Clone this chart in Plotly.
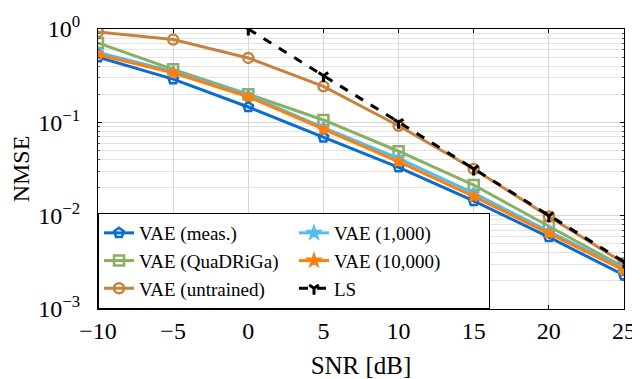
import plotly.graph_objects as go

# SNR grid and NMSE curves
snr = [-10, -5, 0, 5, 10, 15, 20, 25]
nmse_meas = [0.50, 0.29, 0.146, 0.069, 0.033, 0.0144, 0.0059, 0.0023]
nmse_quadriga = [0.71, 0.37, 0.20, 0.106, 0.049, 0.0213, 0.0077, 0.0028]
nmse_untrained = [0.93, 0.77, 0.49, 0.243, 0.092, 0.0316, 0.0098, 0.0031]
nmse_1000 = [0.56, 0.35, 0.196, 0.088, 0.041, 0.0174, 0.0068, 0.0027]
nmse_10000 = [0.53, 0.34, 0.188, 0.084, 0.038, 0.0161, 0.0065, 0.0026]
snr_ls = [0, 5, 10, 15, 20, 25]
nmse_ls = [1.0, 0.316, 0.1, 0.0316, 0.0100, 0.0032]

y_tickvals = [1e-3, 1e-2, 1e-1, 1]
y_ticktext = ['10<sup>\u22123</sup>', '10<sup>\u22122</sup>', '10<sup>\u22121</sup>', '10<sup>0</sup>']

FONT = 'Liberation Serif, Times New Roman, serif'

series = [
    # name, y, color, symbol, size, legend rank (row-wise -> two columns)
    ('VAE (meas.)', nmse_meas, '#0a6ccc', 'pentagon-open', 10, 1),
    ('VAE (QuaDRiGa)', nmse_quadriga, '#8cae63', 'square-open', 10, 3),
    ('VAE (untrained)', nmse_untrained, '#c6823f', 'circle-open', 10, 5),
    ('VAE (1,000)', nmse_1000, '#4dbeee', 'star', 8, 2),
    ('VAE (10,000)', nmse_10000, '#ff7f0e', 'star', 8, 4),
]

fig = go.Figure()
for name, y, color, symbol, size, rank in series:
    fig.add_trace(go.Scatter(
        x=snr, y=y, name=name, mode='lines+markers', legendrank=rank,
        line=dict(color=color, width=3),
        marker=dict(symbol=symbol, size=size, color=color, line=dict(color=color, width=2.5)),
    ))

fig.add_trace(go.Scatter(
    x=snr_ls, y=nmse_ls, name='LS', mode='lines+markers', legendrank=6,
    line=dict(color='black', width=3, dash='dash'),
    marker=dict(symbol='y-down-open', size=8, color='black', line=dict(color='black', width=3)),
))

# page body adds an 8px offset, so the figure is sized to 632x371
fig.update_layout(
    width=632, height=371,
    margin=dict(l=89, r=10, t=4, b=69),
    plot_bgcolor='white',
    paper_bgcolor='white',
    font=dict(family=FONT, size=24, color='black'),
    legend=dict(
        x=0, y=0, xanchor='left', yanchor='bottom',
        orientation='h', entrywidth=150, entrywidthmode='pixels',
        bgcolor='white', bordercolor='black', borderwidth=1,
        font=dict(family=FONT, size=19), tracegroupgap=0,
    ),
)

fig.update_xaxes(
    range=[-10, 25], dtick=5, title_text='SNR [dB]', title_standoff=14,
    title_font=dict(size=25),
    showline=True, linecolor='black', linewidth=1, mirror='allticks',
    ticks='inside', ticklen=4, tickcolor='black', ticklabeloverflow='allow',
    showgrid=True, gridcolor='#d6d6d6', gridwidth=1, zeroline=False,
    tickfont=dict(size=24),
)
fig.update_yaxes(
    type='log', range=[-3, 0], tickvals=y_tickvals,
    # en spaces push the labels away from the axis line like the original
    ticktext=[t + '\u2002' for t in y_ticktext],
    title_text='NMSE', title_standoff=10, title_font=dict(size=24),
    showline=True, linecolor='black', linewidth=1, mirror='allticks',
    ticks='inside', ticklen=4, tickcolor='black', ticklabeloverflow='allow',
    showgrid=True, gridcolor='#d6d6d6', gridwidth=1, zeroline=False,
    minor=dict(dtick='D1', showgrid=True, gridcolor='#e3e3e3', gridwidth=1,
               ticks='inside', ticklen=2, tickcolor='#555555'),
    tickfont=dict(size=24),
)

fig.write_html("out.html")
